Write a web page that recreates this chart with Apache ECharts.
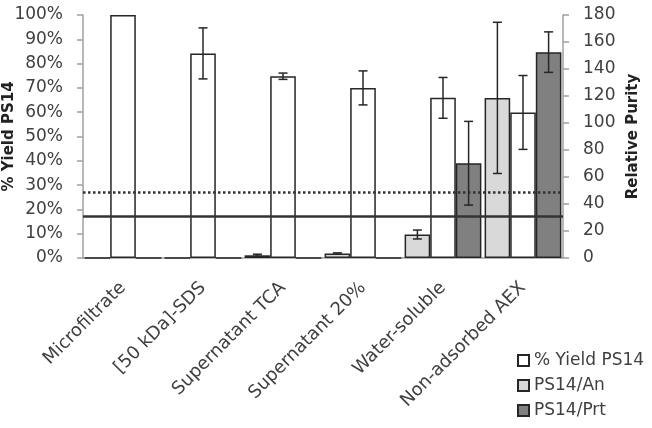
<!DOCTYPE html>
<html>
<head>
<meta charset="utf-8">
<script src="https://cdn.jsdelivr.net/npm/echarts@6/dist/echarts.min.js"></script>
<style>
  html, body { margin: 0; padding: 0; background: #fff; }
  #chart { width: 652px; height: 428px; }
</style>
</head>
<body>
<div id="chart"></div>
<script>
  var categories = ['Microfiltrate', '[50 kDa]-SDS', 'Supernatant TCA', 'Supernatant 20%', 'Water-soluble', 'Non-adsorbed AEX'];
  // % yield, left axis
  var yieldVals = [100, 84.2, 74.8, 70.0, 65.9, 59.9];
  var yieldErr = [0, 10.5, 1.3, 7.0, 8.4, 15.2];
  // relative purity, right axis
  var anVals = [0, 0, 2, 3.3, 17.4, 118.6];
  var anErr = [0, 0, 0.8, 0.5, 3.3, 56];
  var prtVals = [0, 0, 0, 0, 70.2, 152.5];
  var prtErr = [0, 0, 0, 0, 31, 15];
  // reference lines, right axis
  var dottedLine = 49;
  var solidLine = 31;

  var font = 'DejaVu Sans';
  var txt = '#404040';
  var edge = '#262626';
  var gap = 0.04;

  var chart = echarts.init(document.getElementById('chart'));

  function errorSeries(vals, errs, axisIdx, slot) {
    return {
      type: 'custom',
      yAxisIndex: axisIdx,
      z: 10,
      silent: true,
      encode: { x: 0, y: 1 },
      data: vals.map(function (v, i) { return [i, v, errs[i]]; }),
      renderItem: function (params, api) {
        var i = api.value(0), v = api.value(1), e = api.value(2);
        if (!e) return null;
        var band = api.size([1, 0])[0];
        var bw = band * (1 - gap) / 3;
        var c = api.coord([i, v]);
        var x = c[0] + (slot - 1) * bw;
        var hi = api.coord([i, v + e])[1];
        var lo = api.coord([i, v - e])[1];
        var st = { stroke: edge, lineWidth: 1.5 };
        return {
          type: 'group',
          children: [
            { type: 'line', shape: { x1: x, y1: hi, x2: x, y2: lo }, style: st },
            { type: 'line', shape: { x1: x - 4.5, y1: hi, x2: x + 4.5, y2: hi }, style: st },
            { type: 'line', shape: { x1: x - 4.5, y1: lo, x2: x + 4.5, y2: lo }, style: st }
          ]
        };
      }
    };
  }

  chart.setOption({
    animation: false,
    textStyle: { fontFamily: font },
    grid: { left: 83, right: 89, top: 15, bottom: 170, containLabel: false, outerBoundsMode: 'none' },
    legend: {
      orient: 'vertical',
      left: 512,
      top: 347,
      itemWidth: 11,
      itemHeight: 11,
      itemGap: 8,
      icon: 'rect',
      data: ['% Yield PS14', 'PS14/An', 'PS14/Prt'],
      textStyle: { fontFamily: font, fontSize: 17, color: txt }
    },
    xAxis: {
      type: 'category',
      data: categories,
      axisLine: { lineStyle: { color: '#a0a0a0', width: 1.5 } },
      axisTick: { length: 6, lineStyle: { color: '#a0a0a0', width: 1.5 } },
      axisLabel: { rotate: 45, fontSize: 18, color: txt, margin: 27 }
    },
    yAxis: [
      {
        type: 'value',
        min: 0, max: 100, interval: 10,
        name: '% Yield PS14',
        nameLocation: 'middle',
        nameGap: 66,
        nameMoveOverlap: false,
        nameTextStyle: { fontWeight: 'bold', fontSize: 15, color: '#222' },
        axisLine: { show: true, lineStyle: { color: '#a0a0a0', width: 1.5 } },
        axisTick: { show: true, length: 6, lineStyle: { color: '#a0a0a0', width: 1.5 } },
        axisLabel: { formatter: '{value}%', fontSize: 17, color: txt, margin: 20 },
        splitLine: { show: false }
      },
      {
        type: 'value',
        min: 0, max: 180, interval: 20,
        name: 'Relative Purity',
        nameLocation: 'middle',
        nameRotate: 90,
        nameGap: 63,
        nameMoveOverlap: false,
        nameTextStyle: { fontWeight: 'bold', fontSize: 15, color: '#222' },
        axisLine: { show: true, lineStyle: { color: '#a0a0a0', width: 1.5 } },
        axisTick: { show: true, length: 6, lineStyle: { color: '#a0a0a0', width: 1.5 } },
        axisLabel: { fontSize: 17, color: txt, margin: 20 },
        splitLine: { show: false }
      }
    ],
    series: [
      {
        name: 'PS14/An',
        type: 'bar',
        yAxisIndex: 1,
        barGap: '0%',
        barCategoryGap: (gap * 100) + '%',
        data: anVals,
        itemStyle: { color: '#d9d9d9', borderColor: edge, borderWidth: 1.5 },
        markLine: {
          silent: true,
          symbol: 'none',
          label: { show: false },
          data: [
            { yAxis: dottedLine, lineStyle: { type: 'dotted', color: '#333', width: 2.5 } },
            { yAxis: solidLine, lineStyle: { type: 'solid', color: '#333', width: 2.5 } }
          ]
        }
      },
      {
        name: '% Yield PS14',
        type: 'bar',
        yAxisIndex: 0,
        barGap: '0%',
        barCategoryGap: (gap * 100) + '%',
        data: yieldVals,
        itemStyle: { color: '#ffffff', borderColor: edge, borderWidth: 1.5 }
      },
      {
        name: 'PS14/Prt',
        type: 'bar',
        yAxisIndex: 1,
        barGap: '0%',
        barCategoryGap: (gap * 100) + '%',
        data: prtVals,
        itemStyle: { color: '#808080', borderColor: edge, borderWidth: 1.5 }
      },
      errorSeries(anVals, anErr, 1, 0),
      errorSeries(yieldVals, yieldErr, 0, 1),
      errorSeries(prtVals, prtErr, 1, 2)
    ]
  });
</script>
</body>
</html>
